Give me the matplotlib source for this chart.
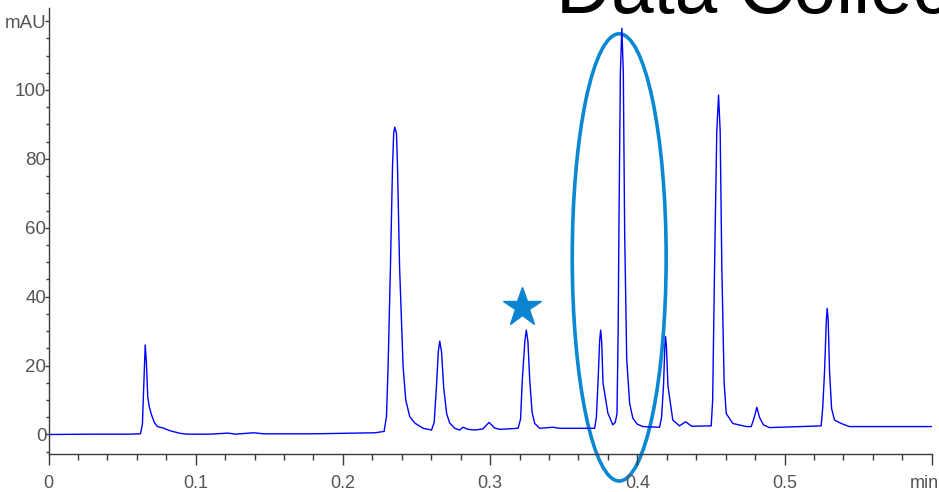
# %%
import matplotlib.pyplot as plt
from matplotlib.patches import Ellipse
from matplotlib.ticker import FixedLocator, MultipleLocator

# chromatogram trace (time in min, signal in mAU)
time_min = [0.000, 0.030, 0.055, 0.0625, 0.0638, 0.0648, 0.0657, 0.0665, 0.0674, 0.0684,
            0.0700, 0.0720, 0.0740, 0.0778, 0.0825, 0.0893, 0.0940, 0.110, 0.122, 0.127,
            0.1396, 0.146, 0.180, 0.2220, 0.2280, 0.2296, 0.2307, 0.2323, 0.2337, 0.2345,
            0.2352, 0.2364, 0.2371, 0.2385, 0.2409, 0.2427, 0.2454, 0.2489, 0.2545, 0.2602,
            0.2620, 0.2635, 0.2648, 0.2658, 0.2670, 0.2685, 0.2705, 0.2726, 0.2760, 0.2793,
            0.2816, 0.2850, 0.2895, 0.2950, 0.2993, 0.3030, 0.3065, 0.3190, 0.3207, 0.3219,
            0.3236, 0.3246, 0.3257, 0.3269, 0.3285, 0.3303, 0.3337, 0.3427, 0.3470, 0.3710,
            0.3722, 0.3733, 0.3744, 0.3751, 0.3758, 0.3767, 0.3800, 0.3834, 0.3850, 0.3862,
            0.3870, 0.3875, 0.3885, 0.3895, 0.3905, 0.3914, 0.3928, 0.3948, 0.3970, 0.4000,
            0.4038, 0.4151, 0.4165, 0.4178, 0.4187, 0.4192, 0.4198, 0.4208, 0.4241, 0.4287,
            0.4328, 0.4370, 0.4502, 0.4512, 0.4525, 0.4540, 0.4552, 0.4563, 0.4574, 0.4590,
            0.4604, 0.4649, 0.4740, 0.4774, 0.4795, 0.4812, 0.4830, 0.4857, 0.4898, 0.5249,
            0.5260, 0.5272, 0.5284, 0.5290, 0.5297, 0.5306, 0.5320, 0.5340, 0.5385, 0.5441,
            0.6000]
signal_mau = [0.0, 0.1, 0.1, 0.2, 3.0, 15.0, 26.0, 21.0, 11.0, 8.1,
              5.7, 3.4, 2.3, 1.9, 1.1, 0.35, 0.1, 0.1, 0.4, 0.1,
              0.5, 0.2, 0.2, 0.5, 0.9, 5.2, 19.7, 48.7, 77.7, 87.4,
              89.2, 87.4, 77.7, 48.7, 19.7, 10.0, 5.2, 3.3, 1.8, 1.3,
              3.5, 13.5, 24.0, 27.1, 24.0, 13.5, 6.0, 3.3, 1.8, 1.3,
              2.1, 1.5, 1.3, 1.6, 3.5, 1.9, 1.5, 1.8, 4.5, 16.0,
              27.0, 30.3, 27.0, 16.0, 6.5, 3.2, 1.8, 2.1, 1.8, 1.8,
              5.0, 15.0, 27.0, 30.3, 27.0, 15.0, 6.2, 2.8, 3.5, 6.0,
              30.0, 59.0, 105.0, 117.9, 105.0, 59.0, 22.0, 9.0, 4.7, 3.0,
              2.3, 2.1, 5.0, 14.2, 25.5, 28.4, 25.5, 14.2, 4.2, 2.5,
              3.7, 2.4, 2.5, 10.0, 49.0, 88.0, 98.5, 88.0, 49.0, 15.0,
              6.1, 3.2, 2.3, 2.3, 5.0, 7.9, 5.0, 2.8, 2.0, 2.5,
              8.0, 18.3, 33.0, 36.6, 33.0, 18.3, 7.5, 4.2, 3.2, 2.3,
              2.3]

# axis ticks and labels
x_ticks = [0.0, 0.1, 0.2, 0.3, 0.4, 0.5, 0.6]
x_labels = ['0', '0.1', '0.2', '0.3', '0.4', '0.5', '']
y_ticks = [0, 20, 40, 60, 80, 100, 120]
y_labels = ['0', '20', '40', '60', '80', '100', 'mAU']

plt.rcParams['font.family'] = ['Liberation Sans', 'DejaVu Sans']

# %%
fig = plt.figure(figsize = (9.39, 4.92), dpi = 100)
ax = fig.add_axes([48.5 / 939, 1 - 454 / 492, (931.7 - 48.5) / 939, (454 - 8.3) / 492])

# highlight ellipse round the main peak, then the trace on top
ax.add_patch(Ellipse((0.3877, 51.4), 0.0638, 129.8, fill = False, edgecolor = '#0a88d2',
                     linewidth = 2.6, clip_on = False, zorder = 1))
ax.plot(time_min, signal_mau, color = '#0000ff', linewidth = 1.0, solid_joinstyle = 'round', zorder = 2)
ax.plot([0.3215], [36.95], linestyle = 'none', marker = '*', markersize = 29.5,
        color = '#0a84d0', clip_on = False, zorder = 3)

ax.set_xlim(0, 0.6)
ax.set_ylim(-5.66, 123.7)

# axis styling, only left and bottom spines
for side in ['top', 'right']:
    ax.spines[side].set_visible(False)
for side in ['left', 'bottom']:
    ax.spines[side].set_color('#3a3a3a')
    ax.spines[side].set_linewidth(1.0)

ax.xaxis.set_major_locator(FixedLocator(x_ticks))
ax.xaxis.set_minor_locator(MultipleLocator(0.02))
ax.set_xticklabels(x_labels)
ax.yaxis.set_major_locator(FixedLocator(y_ticks))
ax.yaxis.set_minor_locator(MultipleLocator(5))
ax.set_yticklabels(y_labels)

ax.tick_params(axis = 'x', which = 'major', direction = 'out', length = 8, width = 1,
               color = '#3a3a3a', labelsize = 13, labelcolor = '#555555', pad = 7)
ax.tick_params(axis = 'x', which = 'minor', direction = 'out', length = 4.5, width = 1, color = '#3a3a3a')
ax.tick_params(axis = 'y', which = 'major', direction = 'out', length = 3, width = 1,
               color = '#3a3a3a', labelsize = 13.5, labelcolor = '#555555', pad = -1.5)
ax.tick_params(axis = 'y', which = 'minor', direction = 'out', length = 2.5, width = 1, color = '#3a3a3a')

# unit label at the end of the time axis
ax.annotate('min', xy = (0.6, 0), xycoords = ('data', 'axes fraction'), xytext = (-7, -34),
            textcoords = 'offset pixels', ha = 'center', va = 'baseline', fontsize = 13, color = '#555555')

# big slide title, cut off by the top edge
fig.text(556 / 939, 1 - 12.5 / 492, 'Data Collection', fontsize = 55, color = 'black',
         ha = 'left', va = 'baseline')

fig.savefig('out.png', dpi = 100)
